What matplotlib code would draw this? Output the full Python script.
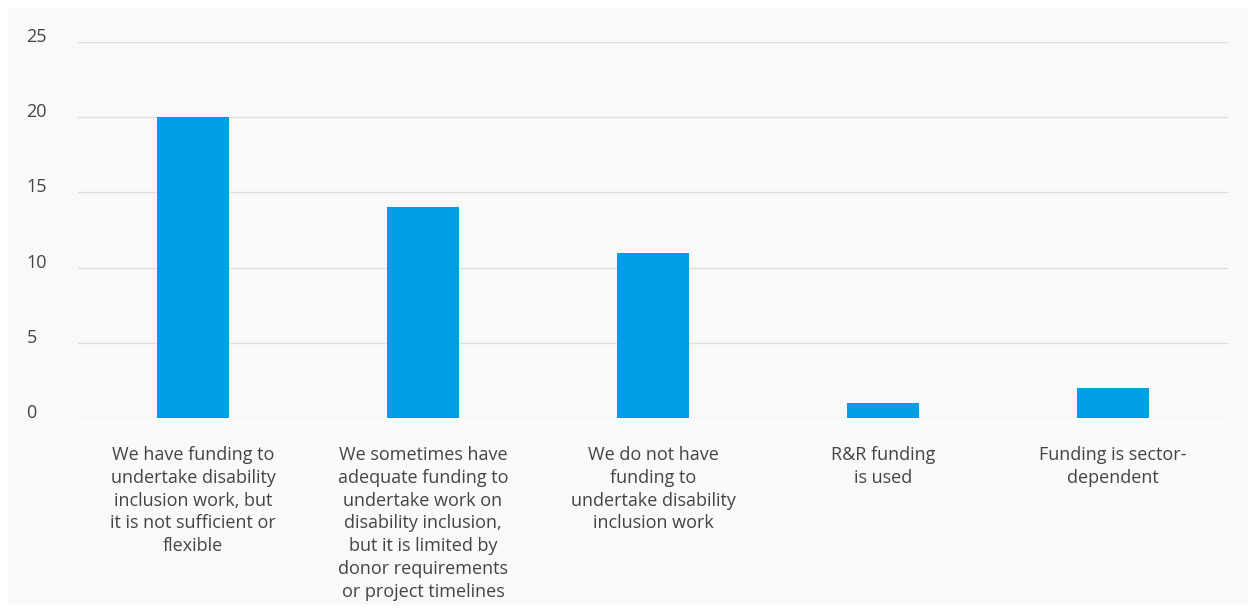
import matplotlib
matplotlib.use('Agg')
import matplotlib.pyplot as plt
from matplotlib.patches import Rectangle

categories = [
    "We have funding to\nundertake disability\ninclusion work, but\nit is not sufficient or\nflexible",
    "We sometimes have\nadequate funding to\nundertake work on\ndisability inclusion,\nbut it is limited by\ndonor requirements\nor project timelines",
    "We do not have\nfunding to\nundertake disability\ninclusion work",
    "R&R funding\nis used",
    "Funding is sector-\ndependent",
]
values = [20, 14, 11, 1, 2]
yticks = [0, 5, 10, 15, 20, 25]

bg = '#f9f9f9'
text_color = '#444444'
plt.rcParams['font.family'] = ['Open Sans', 'DejaVu Sans']

fig = plt.figure(figsize=(12.56, 6.09), dpi=100, facecolor='white')
fig.patches.append(Rectangle((8 / 1256, 4 / 609), 1240 / 1256, 597 / 609,
                             transform=fig.transFigure, facecolor=bg,
                             edgecolor='none', zorder=-10))
ax = fig.add_axes([78 / 1256, 1 - 418 / 609, 1150 / 1256, 376 / 609])
ax.set_facecolor(bg)

ax.bar(range(len(values)), values, width=0.315, color='#009fe3', zorder=3)
ax.set_xlim(-0.5, len(values) - 0.5)
ax.set_ylim(0, 25)
ax.set_yticks(yticks)
ax.grid(axis='y', color='#dddddd', linewidth=1)
ax.set_axisbelow(True)
for s in ax.spines.values():
    s.set_visible(False)

ax.set_xticks(range(len(categories)))
ax.set_xticklabels(categories, fontsize=13, color=text_color, linespacing=1.35)
ax.tick_params(axis='x', length=0, pad=20)
ax.tick_params(axis='y', length=0, pad=37, labelsize=13, labelcolor=text_color)
for lbl in ax.get_yticklabels():
    lbl.set_verticalalignment('baseline')
    lbl.set_horizontalalignment('left')

fig.savefig('out.png', dpi=100, facecolor='white')
